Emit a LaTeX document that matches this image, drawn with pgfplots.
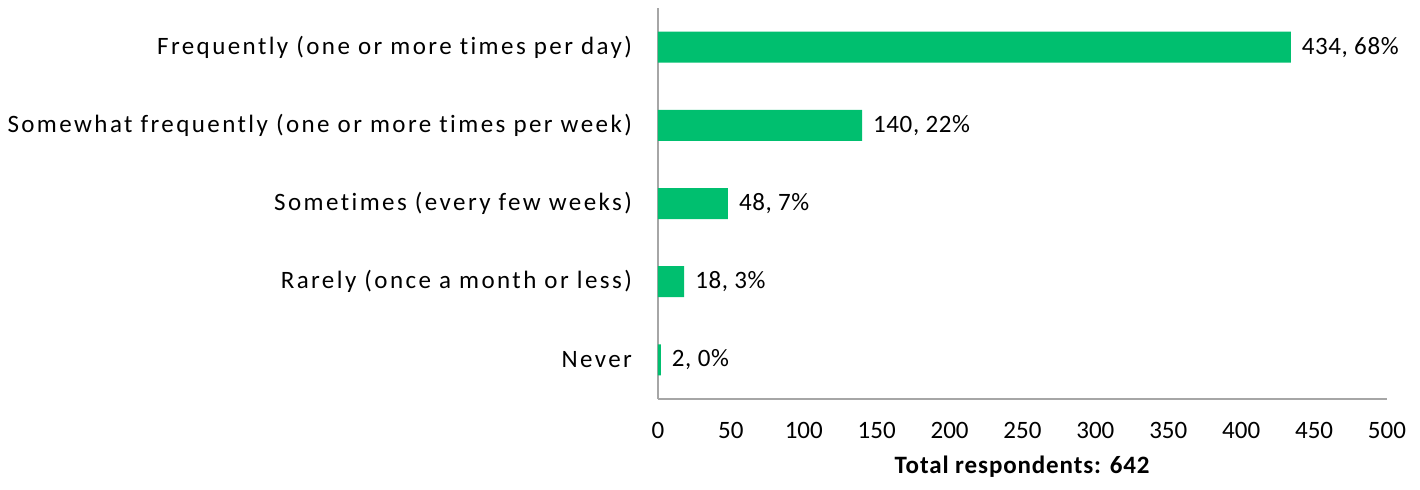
\documentclass[border=0pt]{standalone}
\usepackage{fontspec}
\setmainfont{Carlito}[Ligatures=NoCommon]
\newfontfamily\catfont{Carlito}[Ligatures=NoCommon, LetterSpace=9.7]
\newfontfamily\numfont{Carlito}[Ligatures=NoCommon, LetterSpace=2.5]
\newfontfamily\labfont{Carlito}[Ligatures=NoCommon, LetterSpace=3.5]
\usepackage{pgfplots}
\pgfplotsset{compat=1.18}
\definecolor{bargreen}{HTML}{00BF6F}
\definecolor{axgray}{HTML}{A6A6A6}
\begin{document}
\begin{tikzpicture}[font=\fontsize{12.5}{15}\selectfont]
\begin{axis}[
  at={(0,0)}, anchor=south west,
  scale only axis, width=364.5pt, height=195.5pt,
  xbar, bar width=15.5pt,
  xmin=0, xmax=500, ymin=-0.5, ymax=4.5,
  xtick={0,50,...,500},
  ytick={0,1,2,3,4},
  yticklabels={Never,Rarely (once a month or less),Sometimes (every few weeks),Somewhat frequently (one or more times per week),Frequently (one or more times per day)},
  axis x line*=bottom, axis y line*=left,
  axis line style={axgray, line width=0.6pt, -},
  major tick length=0pt,
  tick style={draw=none},
  /pgf/number format/assume math mode=true,
  xticklabel style={font=\fontsize{12.5}{15}\selectfont, yshift=-8pt},
  yticklabel style={font=\catfont\fontsize{12.5}{15}\selectfont, xshift=-9.5pt},
  xlabel={\textbf{Total respondents: 642}},
  xlabel style={font=\labfont\fontsize{12.5}{15}\selectfont, yshift=-2pt},
  point meta=explicit symbolic,
  nodes near coords,
  nodes near coords style={font=\numfont\fontsize{12.5}{15}\selectfont, black, anchor=west, xshift=2pt},
]
\addplot[fill=bargreen, draw=none] table[meta=lab] {
x y lab
2 0 {2,~0\%}
18 1 {18,~3\%}
48 2 {48,~7\%}
140 3 {140,~22\%}
434 4 {434,~68\%}
};
\end{axis}
\pgfresetboundingbox
\useasboundingbox (-329pt,-45pt) rectangle (381pt,199.5pt);
\end{tikzpicture}
\end{document}
